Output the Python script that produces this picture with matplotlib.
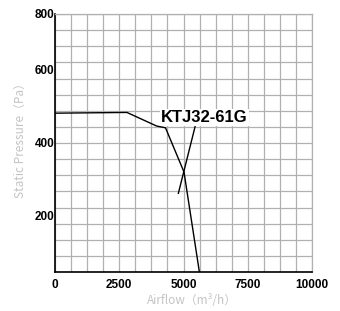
import matplotlib
matplotlib.use("Agg")
import matplotlib.pyplot as plt
import numpy as np

# Data
airflow = [0, 2800, 3950, 4300, 5020, 5620]
pressure = [480, 482, 445, 440, 319, 45]
leader_x = [5450, 4800]
leader_y = [443, 261]
curve_label = "KTJ32-61G"

x_ticks = [0, 2500, 5000, 7500, 10000]
x_ticklabels = ["0", "2500", "5000", "7500", "10000"]
y_ticks = [200, 400, 600, 751]
y_ticklabels = ["200", "400", "600", "800"]

xlim = (0, 10000)
ylim = (46, 751)

fig = plt.figure(figsize=(3.4, 3.11), dpi=100)
ax = fig.add_axes([55/340, 1-272/311, 257/340, 258/311])
ax.set_xlim(*xlim)
ax.set_ylim(*ylim)

grid_c = "#b0b0b0"
for gx in np.linspace(xlim[0], xlim[1], 17):
    ax.axvline(gx, color=grid_c, lw=0.9, zorder=0)
for gy in np.linspace(ylim[0], ylim[1], 17):
    ax.axhline(gy, color=grid_c, lw=0.9, zorder=0)

ax.plot(airflow, pressure, color="black", lw=1.0, zorder=3)
ax.plot(leader_x, leader_y, color="black", lw=1.0, zorder=3)

ax.text(5800, 468, curve_label, fontsize=12, fontweight="heavy",
        family="Liberation Sans", ha="center", va="center", zorder=4,
        bbox=dict(facecolor="white", edgecolor="none", pad=0.8))

ax.set_xticks(x_ticks)
ax.set_xticklabels(x_ticklabels)
ax.set_yticks(y_ticks)
ax.set_yticklabels(y_ticklabels)
ax.tick_params(length=0, labelsize=8.5)
ax.tick_params(axis="x", pad=5)
ax.tick_params(axis="y", pad=0.5)
for lab in ax.get_xticklabels() + ax.get_yticklabels():
    lab.set_fontweight("bold")
    lab.set_family("Liberation Sans")

for s in ["top", "right"]:
    ax.spines[s].set_color(grid_c)
    ax.spines[s].set_linewidth(0.9)
for s in ["left", "bottom"]:
    ax.spines[s].set_color("black")
    ax.spines[s].set_linewidth(1.2)

lab_c = "#c4c4c4"
fig.text(192/340, 1-301/311, "Airflow（m³/h）", color=lab_c, fontsize=8.5,
         ha="center", va="center", family=["Noto Sans CJK SC", "DejaVu Sans"])
fig.text(20/340, 1-138/311, "Static Pressure（Pa）", color=lab_c, fontsize=8.5,
         ha="center", va="center", rotation=90,
         family=["Noto Sans CJK SC", "DejaVu Sans"])

fig.savefig("out.png", dpi=100)
